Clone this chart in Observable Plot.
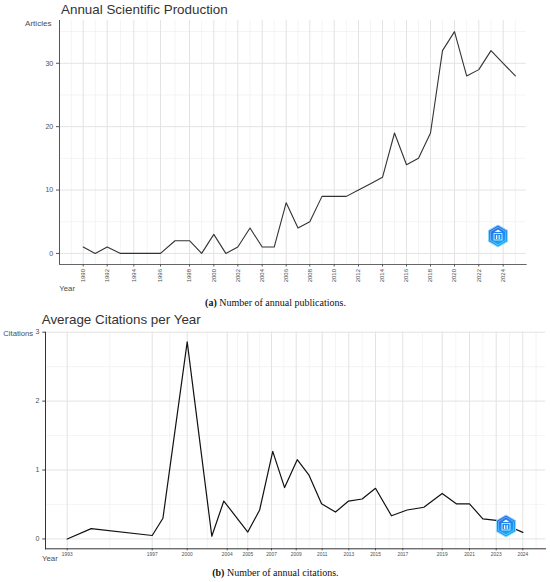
<!DOCTYPE html>
<html><head><meta charset="utf-8">
<script src="https://cdn.jsdelivr.net/npm/d3@7"></script>
<script src="https://cdn.jsdelivr.net/npm/@observablehq/plot@0.6"></script>
<style>
body{margin:0;background:#fff;}
#page{position:relative;width:550px;height:582px;overflow:hidden;font-family:"Liberation Sans",Arial,sans-serif;}
.t{position:absolute;white-space:nowrap;line-height:1;}
.title{font-size:13.4px;color:#333;}
.lab{color:#4d4d4d;}
.cap{font-family:"Liberation Serif","Times New Roman",serif;font-size:10px;color:#111;transform:translateX(-50%);}
.chart{position:absolute;left:0;}
.logo{position:absolute;}
</style></head><body><div id="page"></div>
<script>
// ---------- (a) Annual Scientific Production ----------
const pubYears = [1990,1991,1992,1993,1994,1995,1996,1997,1998,1999,2000,2001,2002,2003,2004,2005,2006,2007,2008,2009,2010,2011,2012,2013,2014,2015,2016,2017,2018,2019,2020,2021,2022,2023,2024,2025];
const pubArticles = [1,0,1,0,0,0,0,2,2,0,3,0,1,4,1,1,8,4,5,9,9,9,10,11,12,19,14,15,19,32,35,28,29,32,30,28];
const pubTicks = [1990,1992,1994,1996,1998,2000,2002,2004,2006,2008,2010,2012,2014,2016,2018,2020,2022,2024];
const pubYTicks = [0,10,20,30];

// ---------- (b) Average Citations per Year ----------
const citeYear = [1993,1994.13,1997.0,1997.92,2000,2002.46,2003.66,2005.0,2006.0,2007.1,2008.06,2009.08,2009.97,2010.95,2012.0,2012.98,2014.0,2015,2016.17,2017.22,2018.07,2019,2020.03,2021,2022,2023,2023.49,2024];
const citeMean = [0,0.15,0.05,0.30,2.86,0.04,0.55,0.10,0.42,1.27,0.745,1.15,0.93,0.51,0.39,0.55,0.58,0.735,0.336,0.42,0.46,0.66,0.51,0.51,0.29,0.27,0.18,0.095];
const citeTicks = [1993,1997,2000,2004,2005,2007,2009,2011,2013,2015,2017,2019,2021,2023,2024];
const citeYTicks = [0,1,2,3];

// ---------- layout options (scale breakpoints as drawn in the reference) ----------
const xBreaksA = [1988,1990,1992,1994,1996,1998,2000,2002,2004,2006,2008,2010,2012,2014,2016,2018,2020,2022,2024,2026];
const xPxA = [58.7,82.7,106.7,133.3,160,189,213.3,237.3,261.7,285.7,309.3,333.7,358,382,406,430,454,478.3,502.7,527];
const yDomainA = [-1.75, 36.75];
const xBreaksB = [1992].concat(citeTicks, [2025]);
const xPxB = [45.5,66.7,151.7,186.7,226.7,247.3,271,295.7,321.7,348.3,375,402.3,441.7,469,495.7,522.3,548.9];
const yDomainB = [-0.143, 3.0];

const minorXA = d3.range(1989, 2026, 2);
const minorYA = [5,15,25,35];
const minorXB = d3.pairs(citeTicks).map(([a,b]) => (a+b)/2).concat([2024.5]);
const minorYB = [0.5,1.5,2.5];

const font = "'Liberation Sans', Arial, sans-serif";
const fmt = d => String(d);
const page = document.getElementById("page");

const pubData = pubYears.map((y,i) => ({year: y, n: pubArticles[i]}));
const citeData = citeYear.map((y,i) => ({year: y, v: citeMean[i]}));

const chartA = Plot.plot({
  width: 550, height: 300,
  marginTop: 20, marginBottom: 36, marginLeft: 59, marginRight: 24.3,
  style: {fontFamily: font, background: "transparent", overflow: "visible"},
  x: {type: "linear", domain: xBreaksA, range: xPxA},
  y: {domain: yDomainA},
  marks: [
    Plot.ruleX(minorXA, {stroke: "#efefef", strokeWidth: 0.7}),
    Plot.ruleY(minorYA, {stroke: "#efefef", strokeWidth: 0.7}),
    Plot.ruleX(pubTicks, {stroke: "#e3e3e3", strokeWidth: 1}),
    Plot.ruleY(pubYTicks, {stroke: "#e3e3e3", strokeWidth: 1}),
    Plot.frame({anchor: "left", stroke: "#555", strokeWidth: 1}),
    Plot.frame({anchor: "bottom", stroke: "#666", strokeWidth: 1}),
    Plot.axisY(pubYTicks, {tickSize: 3, tickPadding: 3.3, fontSize: 7, label: null, tickFormat: fmt, stroke: "#555", fill: "#4d4d4d"}),
    Plot.axisX(pubTicks, {tickSize: 2.5, tickPadding: 2, tickRotate: -90, fontSize: 6, label: null, tickFormat: fmt, stroke: "#555", fill: "#4d4d4d"}),
    Plot.line(pubData, {x: "year", y: "n", stroke: "#333", strokeWidth: 1.1})
  ]
});
chartA.classList.add("chart");
chartA.style.top = "0px";
page.appendChild(chartA);

const chartB = Plot.plot({
  width: 550, height: 292,
  marginTop: 41.7, marginBottom: 33.7, marginLeft: 45, marginRight: 5,
  style: {fontFamily: font, background: "transparent", overflow: "visible"},
  x: {type: "linear", domain: xBreaksB, range: xPxB},
  y: {domain: yDomainB},
  marks: [
    Plot.ruleX(minorXB, {stroke: "#efefef", strokeWidth: 0.7}),
    Plot.ruleY(minorYB, {stroke: "#efefef", strokeWidth: 0.7}),
    Plot.ruleX(citeTicks, {stroke: "#e3e3e3", strokeWidth: 1}),
    Plot.ruleY(citeYTicks, {stroke: "#e3e3e3", strokeWidth: 1}),
    Plot.frame({anchor: "left", stroke: "#333", strokeWidth: 1}),
    Plot.frame({anchor: "bottom", stroke: "#333", strokeWidth: 1}),
    Plot.axisY(citeYTicks, {tickSize: 2.7, tickPadding: 3.5, fontSize: 7, label: null, tickFormat: fmt, stroke: "#444", fill: "#4d4d4d"}),
    Plot.axisX(citeTicks, {tickSize: 2, tickPadding: 1.5, fontSize: 4.8, label: null, tickFormat: fmt, stroke: "#444", fill: "#4d4d4d"}),
    Plot.line(citeData, {x: "year", y: "v", stroke: "#111", strokeWidth: 1.2})
  ]
});
chartB.classList.add("chart");
chartB.style.top = "290px";
page.appendChild(chartB);

function addText(cls, html, left, top, size) {
  const d = document.createElement("div");
  d.className = "t " + cls;
  d.innerHTML = html;
  d.style.left = left + "px";
  d.style.top = top + "px";
  if (size) d.style.fontSize = size + "px";
  page.appendChild(d);
}
addText("title", "Annual Scientific Production", 61, 2.7);
addText("title", "Average Citations per Year", 41.7, 313);
addText("lab", "Articles", 25, 19.9, 8.1);
addText("lab", "Citations", 3.3, 330.2, 7.7);
addText("lab", "Year", 59.3, 284.6, 7.8);
addText("lab", "Year", 42, 554.8, 7.8);
addText("cap", "<b>(a)</b> Number of annual publications.", 275.5, 298.2);
addText("cap", "<b>(b)</b> Number of annual citations.", 275.4, 567.7);

function addLogo(id, cx, cy) {
  const s = `<svg width="22" height="24" viewBox="0 0 22 24">
  <defs><linearGradient id="${id}" x1="0" y1="0" x2="0.3" y2="1">
  <stop offset="0" stop-color="#2b63e6"/><stop offset="1" stop-color="#12a9f7"/></linearGradient></defs>
  <polygon points="11,1 20.5,6.5 20.5,17.5 11,23 1.5,17.5 1.5,6.5" fill="url(#${id})" stroke="#8fd8ff" stroke-width="1"/>
  <polygon points="11,3.2 18.6,7.6 18.6,16.4 11,20.8 3.4,16.4 3.4,7.6" fill="none" stroke="#fff" stroke-opacity="0.55" stroke-width="0.6"/>
  <polygon points="11,5.5 14.5,8 7.5,8" fill="#fff" opacity="0.9"/>
  <rect x="7" y="9.5" width="8" height="6.5" fill="none" stroke="#fff" stroke-width="0.8" opacity="0.9"/>
  <rect x="9" y="11" width="1.2" height="4" fill="#fff" opacity="0.9"/>
  <rect x="11.6" y="11" width="1.2" height="4" fill="#fff" opacity="0.9"/>
  </svg>`;
  const d = document.createElement("div");
  d.className = "logo";
  d.innerHTML = s;
  d.style.left = (cx - 11) + "px";
  d.style.top = (cy - 12) + "px";
  page.appendChild(d);
}
addLogo("lgA", 497.7, 236);
addLogo("lgB", 505.7, 525.7);
</script></body></html>
